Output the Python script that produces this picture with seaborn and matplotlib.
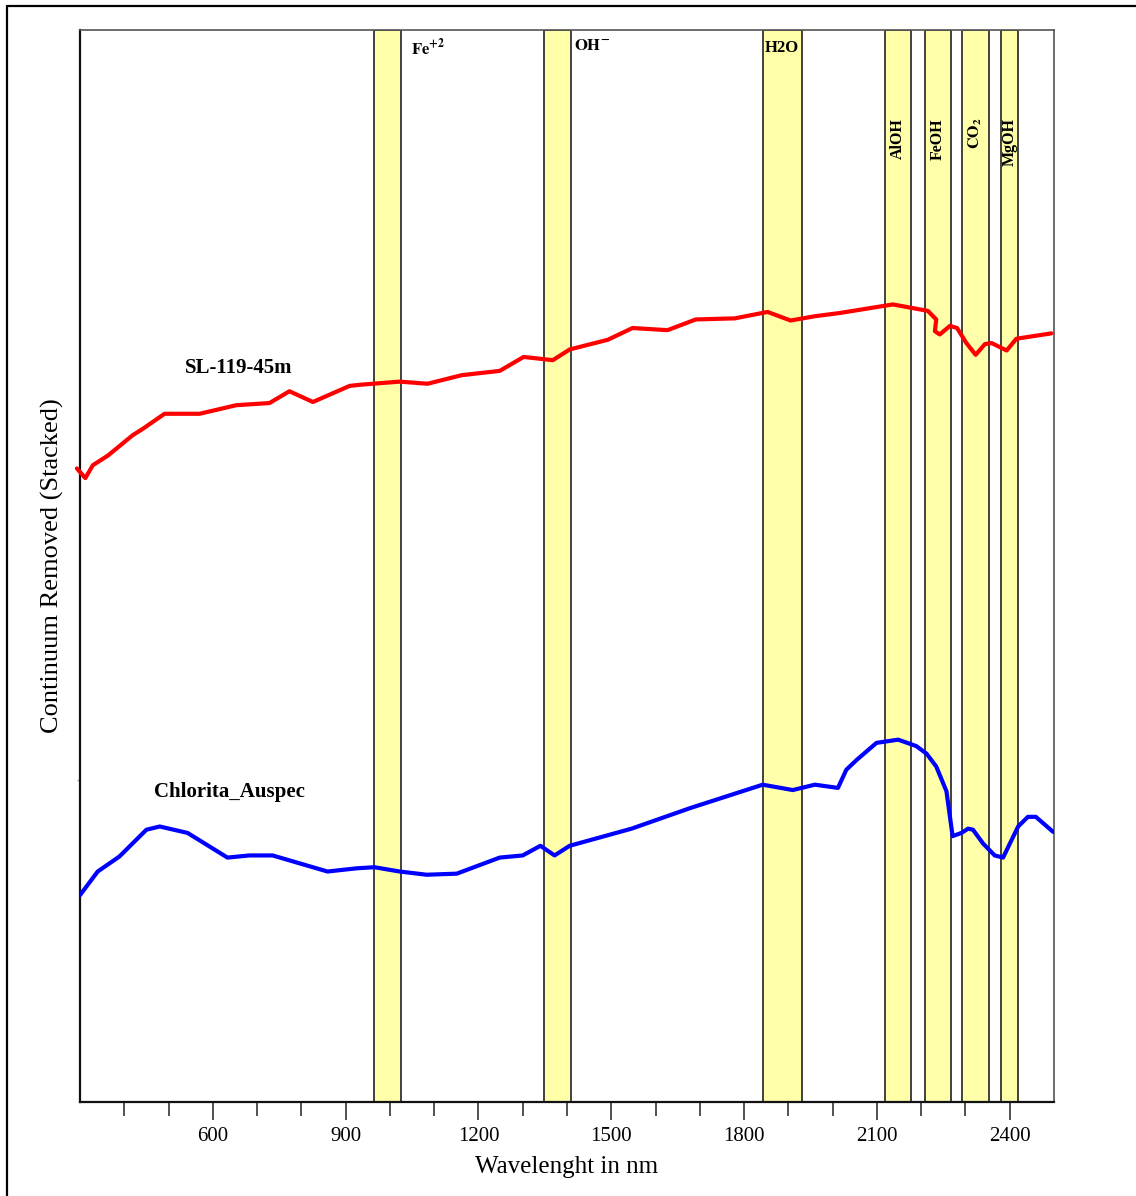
import numpy as np
import pandas as pd
import matplotlib
matplotlib.use("Agg")
import matplotlib.pyplot as plt
import seaborn as sns
from matplotlib.lines import Line2D
from matplotlib.ticker import FixedLocator, NullFormatter
import matplotlib.transforms as mtransforms

# ---------------- data ----------------
wl_sl = [293, 312, 329, 363, 419, 442, 491, 570, 653, 728, 773, 826, 909, 931,
         1022, 1085, 1162, 1248, 1302, 1368, 1406, 1492, 1548, 1627, 1691, 1779,
         1853, 1905, 1960, 2016, 2136, 2215, 2234, 2231, 2242, 2265, 2281, 2302,
         2323, 2344, 2359, 2393, 2415, 2494]
cr_sl = [0.591, 0.582, 0.594, 0.603, 0.622, 0.628, 0.642, 0.642, 0.650, 0.652,
         0.663, 0.653, 0.668, 0.669, 0.672, 0.670, 0.678, 0.682, 0.695, 0.692,
         0.702, 0.711, 0.722, 0.720, 0.730, 0.731, 0.737, 0.729, 0.733, 0.736,
         0.744, 0.738, 0.730, 0.719, 0.716, 0.724, 0.722, 0.708, 0.697, 0.707,
         0.708, 0.701, 0.712, 0.717]

wl_chl = [300, 340, 389, 450, 480, 543, 633, 683, 735, 859, 925, 965, 1022,
          1083, 1151, 1248, 1300, 1340, 1372, 1406, 1546, 1677, 1842, 1910, 1960,
          2012, 2031, 2054, 2099, 2148, 2189, 2212, 2234, 2257, 2271, 2291, 2306,
          2317, 2340, 2366, 2385, 2419, 2441, 2459, 2498]
cr_chl = [0.193, 0.215, 0.229, 0.254, 0.257, 0.251, 0.228, 0.230, 0.230, 0.215,
          0.218, 0.219, 0.215, 0.212, 0.213, 0.228, 0.230, 0.239, 0.230, 0.239,
          0.255, 0.274, 0.296, 0.291, 0.296, 0.293, 0.310, 0.319, 0.335, 0.338,
          0.332, 0.325, 0.313, 0.290, 0.248, 0.251, 0.255, 0.254, 0.241, 0.230,
          0.228, 0.257, 0.266, 0.266, 0.252]

series_names = ["SL-119-45m", "Chlorita_Auspec"]
series_colors = ["#ff0000", "#0000ff"]

band_start = [965, 1347, 1842, 2118, 2208, 2292, 2380]
band_end = [1024, 1408, 1930, 2176, 2267, 2353, 2418]
band_labels = [r"$\mathbf{Fe}^{\mathbf{+2}}$", r"$\mathbf{OH}^{\mathbf{-}}$", "H2O",
               "AlOH", "FeOH", r"$\mathbf{CO}_{\mathbf{2}}$", "MgOH"]

major_ticks = [600, 900, 1200, 1500, 1800, 2100, 2400]
minor_ticks = [400, 500, 700, 800, 1000, 1100, 1300, 1400, 1600, 1700, 1900,
               2000, 2200, 2300]

# ---------------- style ----------------
sns.set_style("white")
plt.rcParams["font.family"] = ["Liberation Serif", "DejaVu Serif"]
plt.rcParams["mathtext.fontset"] = "stix"
plt.rcParams["text.color"] = "black"
plt.rcParams["axes.labelcolor"] = "black"
plt.rcParams["xtick.labelcolor"] = "black"

W, H = 1136, 1196
fig = plt.figure(figsize=(W / 100, H / 100), dpi=100)
ax = fig.add_axes([80 / W, (H - 1102) / H, 974 / W, 1072 / H])

# bands
for s, e in zip(band_start, band_end):
    ax.axvspan(s, e, facecolor="#ffffaa", edgecolor="#333333", lw=1.3, zorder=1)

# curves
df_sl = pd.DataFrame({"wl": wl_sl, "cr": cr_sl})
df_chl = pd.DataFrame({"wl": wl_chl, "cr": cr_chl})
sns.lineplot(data=df_sl, x="wl", y="cr", sort=False, estimator=None, ax=ax,
             color=series_colors[0], lw=3, zorder=3, clip_on=False)
sns.lineplot(data=df_chl, x="wl", y="cr", sort=False, estimator=None, ax=ax,
             color=series_colors[1], lw=3, zorder=3)

ax.set_xlim(300, 2500)
ax.set_ylim(0, 1)

# band labels
trans = mtransforms.blended_transform_factory(ax.transData, ax.transAxes)
ax.text(1047, 0.993, band_labels[0], transform=trans, ha="left", va="top",
        fontsize=12, color="black", zorder=4)
ax.text(1415, 0.993, band_labels[1], transform=trans, ha="left", va="top",
        fontsize=12, color="black", zorder=4)
ax.text((band_start[2] + band_end[2]) / 2, 0.991, band_labels[2], transform=trans,
        ha="center", va="top", fontsize=12, fontweight="bold", color="black",
        zorder=4)
for i in range(3, 7):
    ax.text((band_start[i] + band_end[i]) / 2, 0.918, band_labels[i],
            transform=trans, ha="center", va="top", rotation=90,
            fontsize=11.5, fontweight="bold", color="black", zorder=4)

# series labels
ax.text(658, 0.685, series_names[0], ha="center", va="center", fontsize=15,
        fontweight="bold", color="black")
ax.text(638, 0.289, series_names[1], ha="center", va="center", fontsize=15,
        fontweight="bold", color="black")

# ticks
ax.xaxis.set_major_locator(FixedLocator(major_ticks))
ax.xaxis.set_minor_locator(FixedLocator(minor_ticks))
ax.xaxis.set_minor_formatter(NullFormatter())
ax.tick_params(axis="x", which="major", direction="out", length=13, width=1.1,
               color="#222222", labelsize=15, labelcolor="black", pad=5,
               bottom=True)
ax.tick_params(axis="x", which="minor", direction="out", length=10, width=1.1,
               color="#222222", bottom=True)
ax.set_yticks([0.3])
ax.set_yticklabels([])
ax.tick_params(axis="y", which="major", direction="out", length=2, width=1,
               color="#999999", left=True)

ax.set_xlabel("Wavelenght in nm", fontsize=18, labelpad=7, color="black")
ax.set_ylabel("Continuum Removed (Stacked)", fontsize=19, labelpad=6,
              color="black")

for side in ["left", "bottom"]:
    ax.spines[side].set_color("#111111")
    ax.spines[side].set_linewidth(1.6)
for side in ["top", "right"]:
    ax.spines[side].set_color("#555555")
    ax.spines[side].set_linewidth(1.2)

# outer frame
fig.add_artist(Line2D([7 / W, 1], [1 - 6 / H, 1 - 6 / H], color="black", lw=1.6,
                      transform=fig.transFigure))
fig.add_artist(Line2D([7 / W, 7 / W], [0, 1 - 6 / H], color="black", lw=1.6,
                      transform=fig.transFigure))

fig.savefig("out.png", dpi=100)
